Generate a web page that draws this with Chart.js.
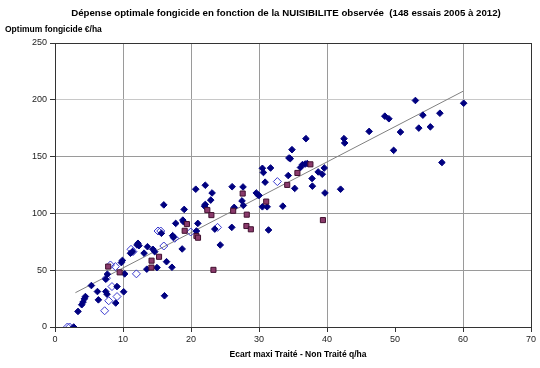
<!DOCTYPE html>
<html><head><meta charset="utf-8">
<script src="https://cdn.jsdelivr.net/npm/chart.js@4/dist/chart.umd.min.js"></script>
<style>html,body{margin:0;padding:0;background:#fff}#wrap{width:540px;height:368px;position:relative}</style>
</head><body><div id="wrap"><canvas id="c" width="540" height="368"></canvas></div>
<script>
const titleText = "Dépense optimale fongicide en fonction de la NUISIBILITE observée  (148 essais 2005 à 2012)";
const yTitle = "Optimum fongicide €/ha";
const xTitle = "Ecart maxi Traité - Non Traité q/ha";
const xTicks = [0,10,20,30,40,50,60,70];
const yTicks = [0,50,100,150,200,250];

// Filled diamonds
const filledX = [2.75,3.38,3.93,4.12,4.32,4.47,5.35,6.24,6.38,7.46,7.46,7.65,7.7,8.93,9.12,10.1,9.76,9.91,10.25,11.1,11.4,12.2,12.35,12.06,13.6,13.1,14.66,14.4,13.5,15.0,16.4,17.2,16.1,16.0,19.0,17.75,18.8,18.9,21.0,20.8,17.3,17.45,15.65,18.7,20.7,22.1,23.1,22.9,22.1,22.0,26.35,26.05,23.5,24.3,26.0,27.65,27.5,27.7,29.6,29.85,30.0,30.5,30.65,31.7,30.9,30.5,31.2,33.5,31.4,36.9,34.85,34.4,34.6,36.4,36.8,37.1,36.1,39.6,38.7,39.3,34.3,37.8,37.85,35.25,39.7,42.0,42.5,42.6,46.2,48.5,49.1,50.8,53.0,53.5,49.8,60.1,54.1,56.6,55.2,56.9];
const filledY = [0,13.7,19.6,21.9,24.8,26.8,36.5,31.2,23.9,42.1,31.2,28.9,46.5,21.1,35.6,31,56.7,58.6,46.8,64.9,66.3,73.7,71.6,72.2,70.7,65,66.3,68.4,50.9,52.3,57.5,52.6,27.5,107.5,103.5,91.2,94.1,92.6,91.2,84.5,80.4,79,82.5,68.7,121.3,124.8,118,111.7,107.9,106.4,105.3,123.5,86.2,72.2,87.7,123.3,111,107,118,116.3,115.8,139.7,136,140,127.5,105.8,105.8,106.4,85.4,165.8,156.1,148.8,148.2,143,143.5,143.9,140.4,140,136.5,134.5,133.3,130.7,124,122,118,121.3,165.8,162,172.2,185.6,183.3,171.6,199.4,175.1,155.5,197,186.5,188.2,176.2,144.8];

// Open diamonds
const openX = [1.82,2.16,7.3,7.9,8.38,9.12,8.15,8.88,11.97,11.18,11.47,16.0,15.15,15.55,17.6,19.96,23.9,32.7,7.56];
const openY = [0,0,14.3,23.1,35.6,26.8,54.6,53.2,46.8,68.4,66.3,71.3,84.5,84.5,78.1,83.6,87.7,128,43];

// Squares
const squareX = [7.82,9.51,14.2,14.18,15.3,22.4,23.0,19.4,19.07,20.8,21.03,23.3,26.2,27.6,31.06,28.2,28.15,28.8,35.65,34.15,37.56,39.4];
const squareY = [53.2,48.1,58.4,52.3,61.8,102.9,98.5,90.6,84.7,80.1,78.6,50.3,102.3,117.5,110.4,98.9,88.9,86,135.6,125.1,143.2,94.1];

// Trend line
const trendX = [3, 60];
const trendY = [30.2, 207.5];

const pts = (xs, ys) => xs.map((x, i) => ({x, y: ys[i]}));
const FONT = "'Liberation Sans', Arial, sans-serif";

const textPlugin = {
  id: 'texts',
  afterDraw(chart) {
    const ctx = chart.ctx, a = chart.chartArea;
    ctx.save();
    ctx.strokeStyle = '#333';
    ctx.lineWidth = 1;
    ctx.strokeRect(Math.round(a.left) + 0.5, Math.round(a.top) + 0.5, Math.round(a.right - a.left), Math.round(a.bottom - a.top));
    ctx.fillStyle = '#000';
    ctx.textBaseline = 'middle';
    ctx.textAlign = 'center';
    ctx.font = "bold 9.7px " + FONT;
    ctx.fillText(titleText, 286, 13);
    ctx.textAlign = 'left';
    ctx.font = "bold 8.5px " + FONT;
    ctx.fillText(yTitle, 5, 30);
    ctx.textAlign = 'center';
    ctx.fillText(xTitle, 298, 355);
    ctx.restore();
  }
};

new Chart(document.getElementById('c'), {
  type: 'scatter',
  data: {
    datasets: [
      { label: 'filled', data: pts(filledX, filledY), pointStyle: 'rectRot', pointRadius: 3.3, backgroundColor: '#000080', borderColor: '#000080', borderWidth: 1, order: 1 },
      { label: 'open', data: pts(openX, openY), pointStyle: 'rectRot', pointRadius: 4, backgroundColor: 'rgba(255,255,255,0)', borderColor: '#3a3acf', borderWidth: 1, order: 2 },
      { label: 'squares', data: pts(squareX, squareY), pointStyle: 'rect', pointRadius: 3.6, backgroundColor: '#8a3a6b', borderColor: '#40102f', borderWidth: 1, order: 0 },
      { label: 'trend', type: 'line', data: pts(trendX, trendY), showLine: true, pointRadius: 0, borderColor: '#808080', borderWidth: 1, fill: false, order: 5 }
    ]
  },
  options: {
    responsive: false,
    animation: false,
    events: [],
    layout: { padding: { left: 0, top: 43, right: 9, bottom: 0 } },
    plugins: { legend: { display: false }, tooltip: { enabled: false }, title: { display: false } },
    scales: {
      x: {
        type: 'linear', min: 0, max: 70,
        afterBuildTicks: s => { s.ticks = xTicks.map(v => ({value: v})); },
        afterFit: s => { s.height = 41; },
        grid: { color: ctx => (ctx.tick && ctx.tick.value === 50) ? 'rgba(0,0,0,0)' : '#9a9a9a', lineWidth: 1, tickLength: 5, tickColor: '#333', drawTicks: true },
        border: { color: '#333', width: 1 },
        ticks: { font: { family: FONT, size: 9 }, color: '#222', padding: 2, maxRotation: 0 }
      },
      y: {
        type: 'linear', min: 0, max: 250,
        afterBuildTicks: s => { s.ticks = yTicks.map(v => ({value: v})); },
        afterFit: s => { s.width = 55; },
        grid: { color: ctx => (ctx.tick && ctx.tick.value === 200) ? '#c8c8c8' : '#9a9a9a', lineWidth: 1, tickLength: 5, tickColor: '#333', drawTicks: true },
        border: { color: '#333', width: 1 },
        ticks: { font: { family: FONT, size: 9 }, color: '#222', padding: 3 }
      }
    }
  },
  plugins: [textPlugin]
});
</script></body></html>
